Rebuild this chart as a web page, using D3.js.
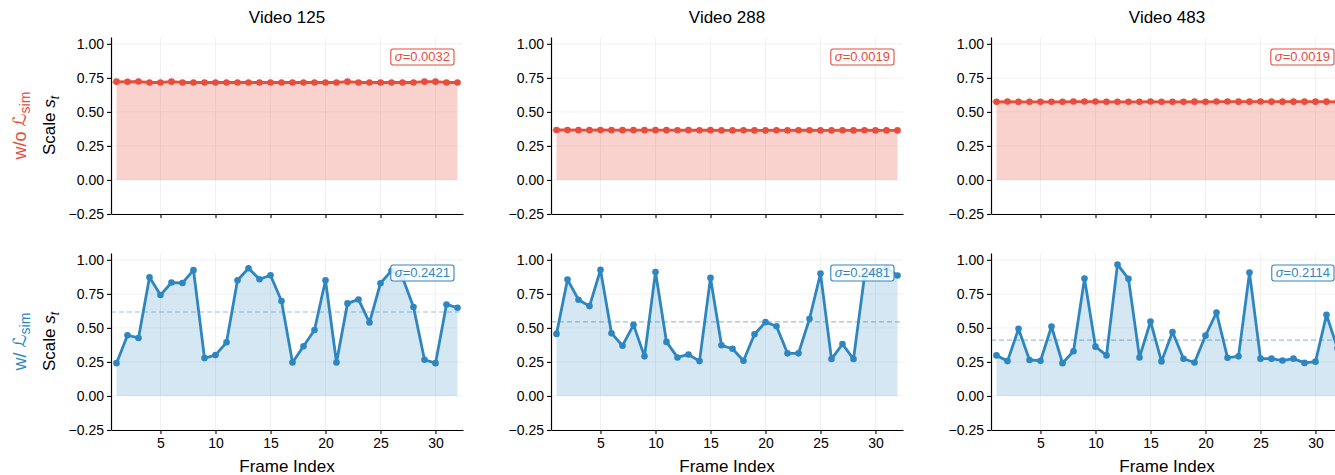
<!DOCTYPE html>
<html>
<head>
<meta charset="utf-8">
<script src="https://cdn.jsdelivr.net/npm/d3@7"></script>
<style>
  body { margin: 0; background: #fff; }
  svg { font-family: "Liberation Sans", Arial, sans-serif; }
</style>
</head>
<body>
<div class="chart"></div>
<script>
  const frames = d3.range(1, 33);
  const videos = ["Video 125", "Video 288", "Video 483"];

  // top row: without similarity loss
  const woSim125 = [0.722, 0.721, 0.723, 0.716, 0.716, 0.722, 0.716, 0.716, 0.716, 0.716, 0.716, 0.716, 0.716, 0.716, 0.716, 0.716,
                    0.716, 0.716, 0.716, 0.716, 0.716, 0.722, 0.716, 0.716, 0.716, 0.716, 0.716, 0.716, 0.722, 0.722, 0.716, 0.716];
  const woSim288 = [0.367, 0.367, 0.366, 0.366, 0.367, 0.366, 0.366, 0.366, 0.366, 0.366, 0.366, 0.365, 0.366, 0.365, 0.366, 0.364,
                    0.364, 0.365, 0.364, 0.364, 0.365, 0.364, 0.365, 0.365, 0.364, 0.364, 0.365, 0.364, 0.365, 0.364, 0.364, 0.364];
  const woSim483 = [0.574, 0.576, 0.574, 0.574, 0.574, 0.574, 0.574, 0.576, 0.576, 0.576, 0.574, 0.574, 0.574, 0.574, 0.576, 0.574,
                    0.574, 0.574, 0.575, 0.574, 0.576, 0.576, 0.575, 0.575, 0.576, 0.575, 0.575, 0.575, 0.575, 0.575, 0.575, 0.574];

  // bottom row: with similarity loss
  const wSim125 = [0.241, 0.446, 0.426, 0.872, 0.741, 0.833, 0.830, 0.924, 0.278, 0.300, 0.394, 0.850, 0.938, 0.857, 0.887, 0.697,
                   0.246, 0.365, 0.485, 0.850, 0.246, 0.680, 0.709, 0.539, 0.828, 0.920, 0.870, 0.653, 0.266, 0.241, 0.672, 0.648];
  const wSim288 = [0.456, 0.855, 0.707, 0.660, 0.926, 0.461, 0.369, 0.522, 0.291, 0.911, 0.397, 0.283, 0.305, 0.256, 0.867, 0.372,
                   0.347, 0.259, 0.453, 0.542, 0.512, 0.313, 0.313, 0.567, 0.899, 0.271, 0.382, 0.271, 0.880, 0.920, 0.940, 0.885];
  const wSim483 = [0.298, 0.256, 0.493, 0.264, 0.259, 0.510, 0.241, 0.328, 0.862, 0.362, 0.298, 0.966, 0.860, 0.283, 0.547, 0.254,
                   0.470, 0.273, 0.246, 0.443, 0.613, 0.281, 0.291, 0.906, 0.274, 0.274, 0.260, 0.274, 0.243, 0.252, 0.596, 0.350];

  const sigmaTop = ["0.0032", "0.0019", "0.0019"];
  const sigmaBottom = ["0.2421", "0.2481", "0.2114"];
  const yTicks = [-0.25, 0, 0.25, 0.5, 0.75, 1.0];
  const xTicks = [5, 10, 15, 20, 25, 30];

  const rows = [
    { series: [woSim125, woSim288, woSim483], sigma: sigmaTop, color: "#e74c3c", fillOpacity: 0.25, label: "w/o " },
    { series: [wSim125, wSim288, wSim483], sigma: sigmaBottom, color: "#2e86c1", fillOpacity: 0.2, label: "w/ " }
  ];

  const dims = { width: 1335, height: 475, panelW: 352, panelH: 177 };
  const colX = [111, 551, 991];
  const rowY = [37, 253];

  const svg = d3.select(".chart")
      .append("svg")
      .attr("width", dims.width)
      .attr("height", dims.height);

  rows.forEach((row, r) => {
    const top = rowY[r];

    // row labels
    const lab = svg.append("text")
        .attr("transform", `translate(26, ${top + dims.panelH / 2}) rotate(-90)`)
        .attr("text-anchor", "middle")
        .attr("fill", row.color)
        .style("font-size", "18px");
    lab.append("tspan").text(row.label);
    lab.append("tspan").attr("font-family", "DejaVu Sans").attr("font-style", "italic").text("ℒ");
    lab.append("tspan").attr("dy", 4).style("font-size", "14px").text("sim");

    const yl = svg.append("text")
        .attr("transform", `translate(55, ${top + dims.panelH / 2}) rotate(-90)`)
        .attr("text-anchor", "middle")
        .attr("fill", "#000")
        .style("font-size", "17px");
    yl.append("tspan").text("Scale ");
    yl.append("tspan").attr("font-style", "italic").text("s");
    yl.append("tspan").attr("font-style", "italic").attr("dy", 4).style("font-size", "12px").text("t");

    row.series.forEach((values, c) => {
      const left = colX[c];
      const x = d3.scaleLinear().domain([0.5, 32.5]).range([left, left + dims.panelW]);
      const y = d3.scaleLinear().domain([-0.25, 1.05]).range([top + dims.panelH, top]);
      const data = frames.map((f, i) => ({ f, v: values[i] }));
      const mean = d3.mean(values);

      // grid
      svg.append("g").selectAll("line.gx").data(xTicks).enter().append("line")
          .attr("x1", d => x(d)).attr("x2", d => x(d))
          .attr("y1", top).attr("y2", top + dims.panelH)
          .attr("stroke", "#eeeeee").attr("stroke-width", 0.8);
      svg.append("g").selectAll("line.gy").data(yTicks).enter().append("line")
          .attr("x1", left).attr("x2", left + dims.panelW)
          .attr("y1", d => y(d)).attr("y2", d => y(d))
          .attr("stroke", "#eeeeee").attr("stroke-width", 0.8);

      // filled area
      svg.append("path")
          .datum(data)
          .attr("d", d3.area().x(d => x(d.f)).y0(y(0)).y1(d => y(d.v)))
          .attr("fill", row.color)
          .attr("fill-opacity", row.fillOpacity);

      // mean line
      svg.append("line")
          .attr("x1", left).attr("x2", left + dims.panelW)
          .attr("y1", y(mean)).attr("y2", y(mean))
          .attr("stroke", row.color)
          .attr("stroke-opacity", 0.5)
          .attr("stroke-width", 1.2)
          .attr("stroke-dasharray", "5,3");

      svg.append("path")
          .datum(data)
          .attr("d", d3.line().x(d => x(d.f)).y(d => y(d.v)))
          .attr("fill", "none")
          .attr("stroke", row.color)
          .attr("stroke-width", 2.8)
          .attr("stroke-linejoin", "round");

      svg.append("g").selectAll("circle").data(data).enter().append("circle")
          .attr("cx", d => x(d.f))
          .attr("cy", d => y(d.v))
          .attr("r", 3.3)
          .attr("fill", row.color);

      // sigma box
      const bx = left + dims.panelW - 9;
      const by = top + 12;
      const sg = svg.append("g");
      const txt = sg.append("text")
          .attr("x", bx - 4)
          .attr("y", by + 12)
          .attr("text-anchor", "end")
          .attr("fill", row.color)
          .style("font-size", "13px");
      txt.append("tspan").attr("font-style", "italic").text("σ");
      txt.append("tspan").text("=" + row.sigma[c]);
      const bb = txt.node().getBBox();
      sg.insert("rect", "text")
          .attr("x", bb.x - 4).attr("y", by)
          .attr("width", bb.width + 8).attr("height", 16)
          .attr("rx", 2.5)
          .attr("fill", "#fff").attr("fill-opacity", 0.85)
          .attr("stroke", row.color).attr("stroke-width", 1.1);

      // axes
      const ya = svg.append("g")
          .attr("transform", `translate(${left}, 0)`)
          .call(d3.axisLeft(y).tickValues(yTicks).tickFormat(d3.format(".2f")).tickSize(4).tickSizeOuter(0));
      ya.selectAll("text").style("font-size", "14px").attr("x", -7);

      const xa = svg.append("g")
          .attr("transform", `translate(0, ${top + dims.panelH})`)
          .call(d3.axisBottom(x).tickValues(xTicks).tickSize(4).tickSizeOuter(0));
      xa.selectAll("text").style("font-size", "14px").attr("y", 8);
      if (r === 0) xa.selectAll("text").remove();

      [ya, xa].forEach(a => {
        a.select(".domain").attr("stroke-width", 1.2);
        a.selectAll(".tick line").attr("stroke-width", 1.1);
        a.attr("font-family", null);
      });

      if (r === 0) {
        svg.append("text")
            .attr("x", left + dims.panelW / 2)
            .attr("y", 23)
            .attr("text-anchor", "middle")
            .style("font-size", "17px")
            .text(videos[c]);
      } else {
        svg.append("text")
            .attr("x", left + dims.panelW / 2)
            .attr("y", 472)
            .attr("text-anchor", "middle")
            .style("font-size", "17px")
            .text("Frame Index");
      }
    });
  });
</script>
</body>
</html>
